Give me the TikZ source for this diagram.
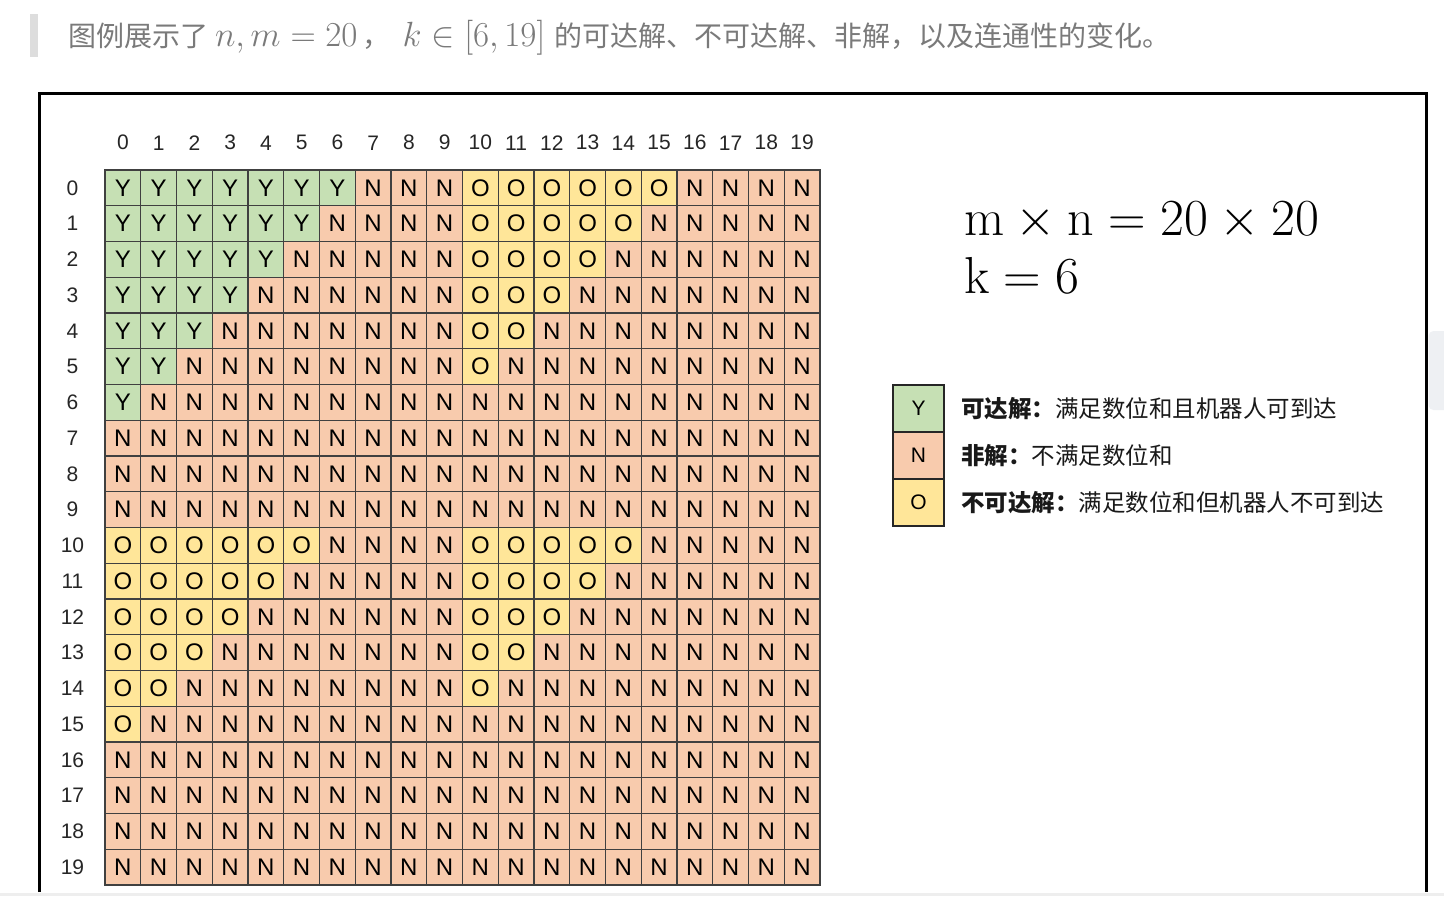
\RequirePackage{fix-cm}
\documentclass[tikz,border=0pt]{standalone}
\usepackage{fontspec}
\usepackage{tikz}
\usetikzlibrary{positioning}
\newfontfamily\arial{Liberation Sans}
\newfontfamily\cjk{Noto Sans CJK SC}
\definecolor{colorY}{HTML}{C6E0B4}
\definecolor{colorN}{HTML}{F8CBAD}
\definecolor{colorO}{HTML}{FFE699}
\definecolor{gristexto}{HTML}{7A7A7A}
\definecolor{grisbarra}{HTML}{DDDDDD}
\definecolor{grisscroll}{HTML}{EEF0F3}
\definecolor{grislinea}{HTML}{EEEEEE}

\begin{document}
\begin{tikzpicture}[x=1pt, y=-1pt, inner sep=0pt, outer sep=0pt, node distance=17pt]
	\tikzset{celda/.style={draw=black!75, line width=1.3pt, minimum size=35.75pt, font=\arial\fontsize{24}{24}\selectfont}}
	\tikzstyle{indice}=[font=\arial\fontsize{21}{21}\selectfont, text=black!85]
	\tikzstyle{leyenda}=[draw=black!85, line width=2pt, minimum width=51pt, minimum height=47pt, font=\arial\fontsize{21}{21}\selectfont]
	\tikzstyle{explica}=[font=\cjk\fontsize{23.5}{23.5}\selectfont, text=black!90]

	\useasboundingbox (0,0) rectangle (1444,916);
	\fill[white] (0,0) rectangle (1444,916);

	%TITULO
	\fill[grisbarra] (30,14) rectangle (38,57);
	\node[anchor=base west, text=gristexto, font=\cjk\fontsize{28}{28}\selectfont] (titulo) at (68,46)
		{图例展示了\hspace{7pt}{\fontsize{35}{35}\selectfont$n,m=20$}\hspace{5pt}，\hspace{12pt}{\fontsize{35}{35}\selectfont$k\in[6,19]$}\hspace{9pt}的可达解、不可达解、非解，以及连通性的变化。};

	%MARCO
	\draw[line width=3pt] (39.5,892) -- (39.5,93.5) -- (1426,93.5) -- (1426,892);
	\fill[grislinea] (0,892.5) rectangle (1444,895.5);
	\fill[grisscroll, rounded corners=5pt] (1428.5,331) rectangle (1456,410);

	%CELDAS
	\foreach \fil in {0,...,19}{
		\foreach \col in {0,...,19}{
			\pgfmathtruncatemacro{\suma}{int(\fil/10)+mod(\fil,10)+int(\col/10)+mod(\col,10)}
			\ifnum\suma>6 \def\tipo{N}\else\def\tipo{O}\ifnum\fil<10 \ifnum\col<10 \def\tipo{Y}\fi\fi\fi
			\edef\relleno{color\tipo}
			\node[celda, fill=\relleno] (c\fil-\col) at ({105+35.75*(\col+0.5)},{170+35.75*(\fil+0.5)}) {\tipo};
		}
	}

	%INDICES
	\foreach \i in {0,...,19}{
		\node[indice, above=20pt of c0-\i] (col\i) {\i};
		\node[indice, minimum width=30pt, left=17.5pt of c\i-0] (fila\i) {\i};
	}

	%DATOS
	\node[anchor=base west, font=\fontsize{52}{52}\selectfont] (dims) at (964,235) {$\mathrm{m}\times\mathrm{n}=20\times20$};
	\node[anchor=base west, font=\fontsize{52}{52}\selectfont] (kval) at (964,293) {$\mathrm{k}=6$};

	%LEYENDA
	\node[leyenda, fill=colorY]			(leyY) at (918.5,408.5)	{Y};
	\node[leyenda, fill=colorN]			(leyN) [below=0pt of leyY]	{N};
	\node[leyenda, fill=colorO]			(leyO) [below=0pt of leyN]	{O};
	\node[explica]		(txtY) [right=of leyY]	{{\bfseries 可达解：}满足数位和且机器人可到达};
	\node[explica]		(txtN) [right=of leyN]	{{\bfseries 非解：}不满足数位和};
	\node[explica]		(txtO) [right=of leyO]	{{\bfseries 不可达解：}满足数位和但机器人不可到达};
\end{tikzpicture}
\end{document}
